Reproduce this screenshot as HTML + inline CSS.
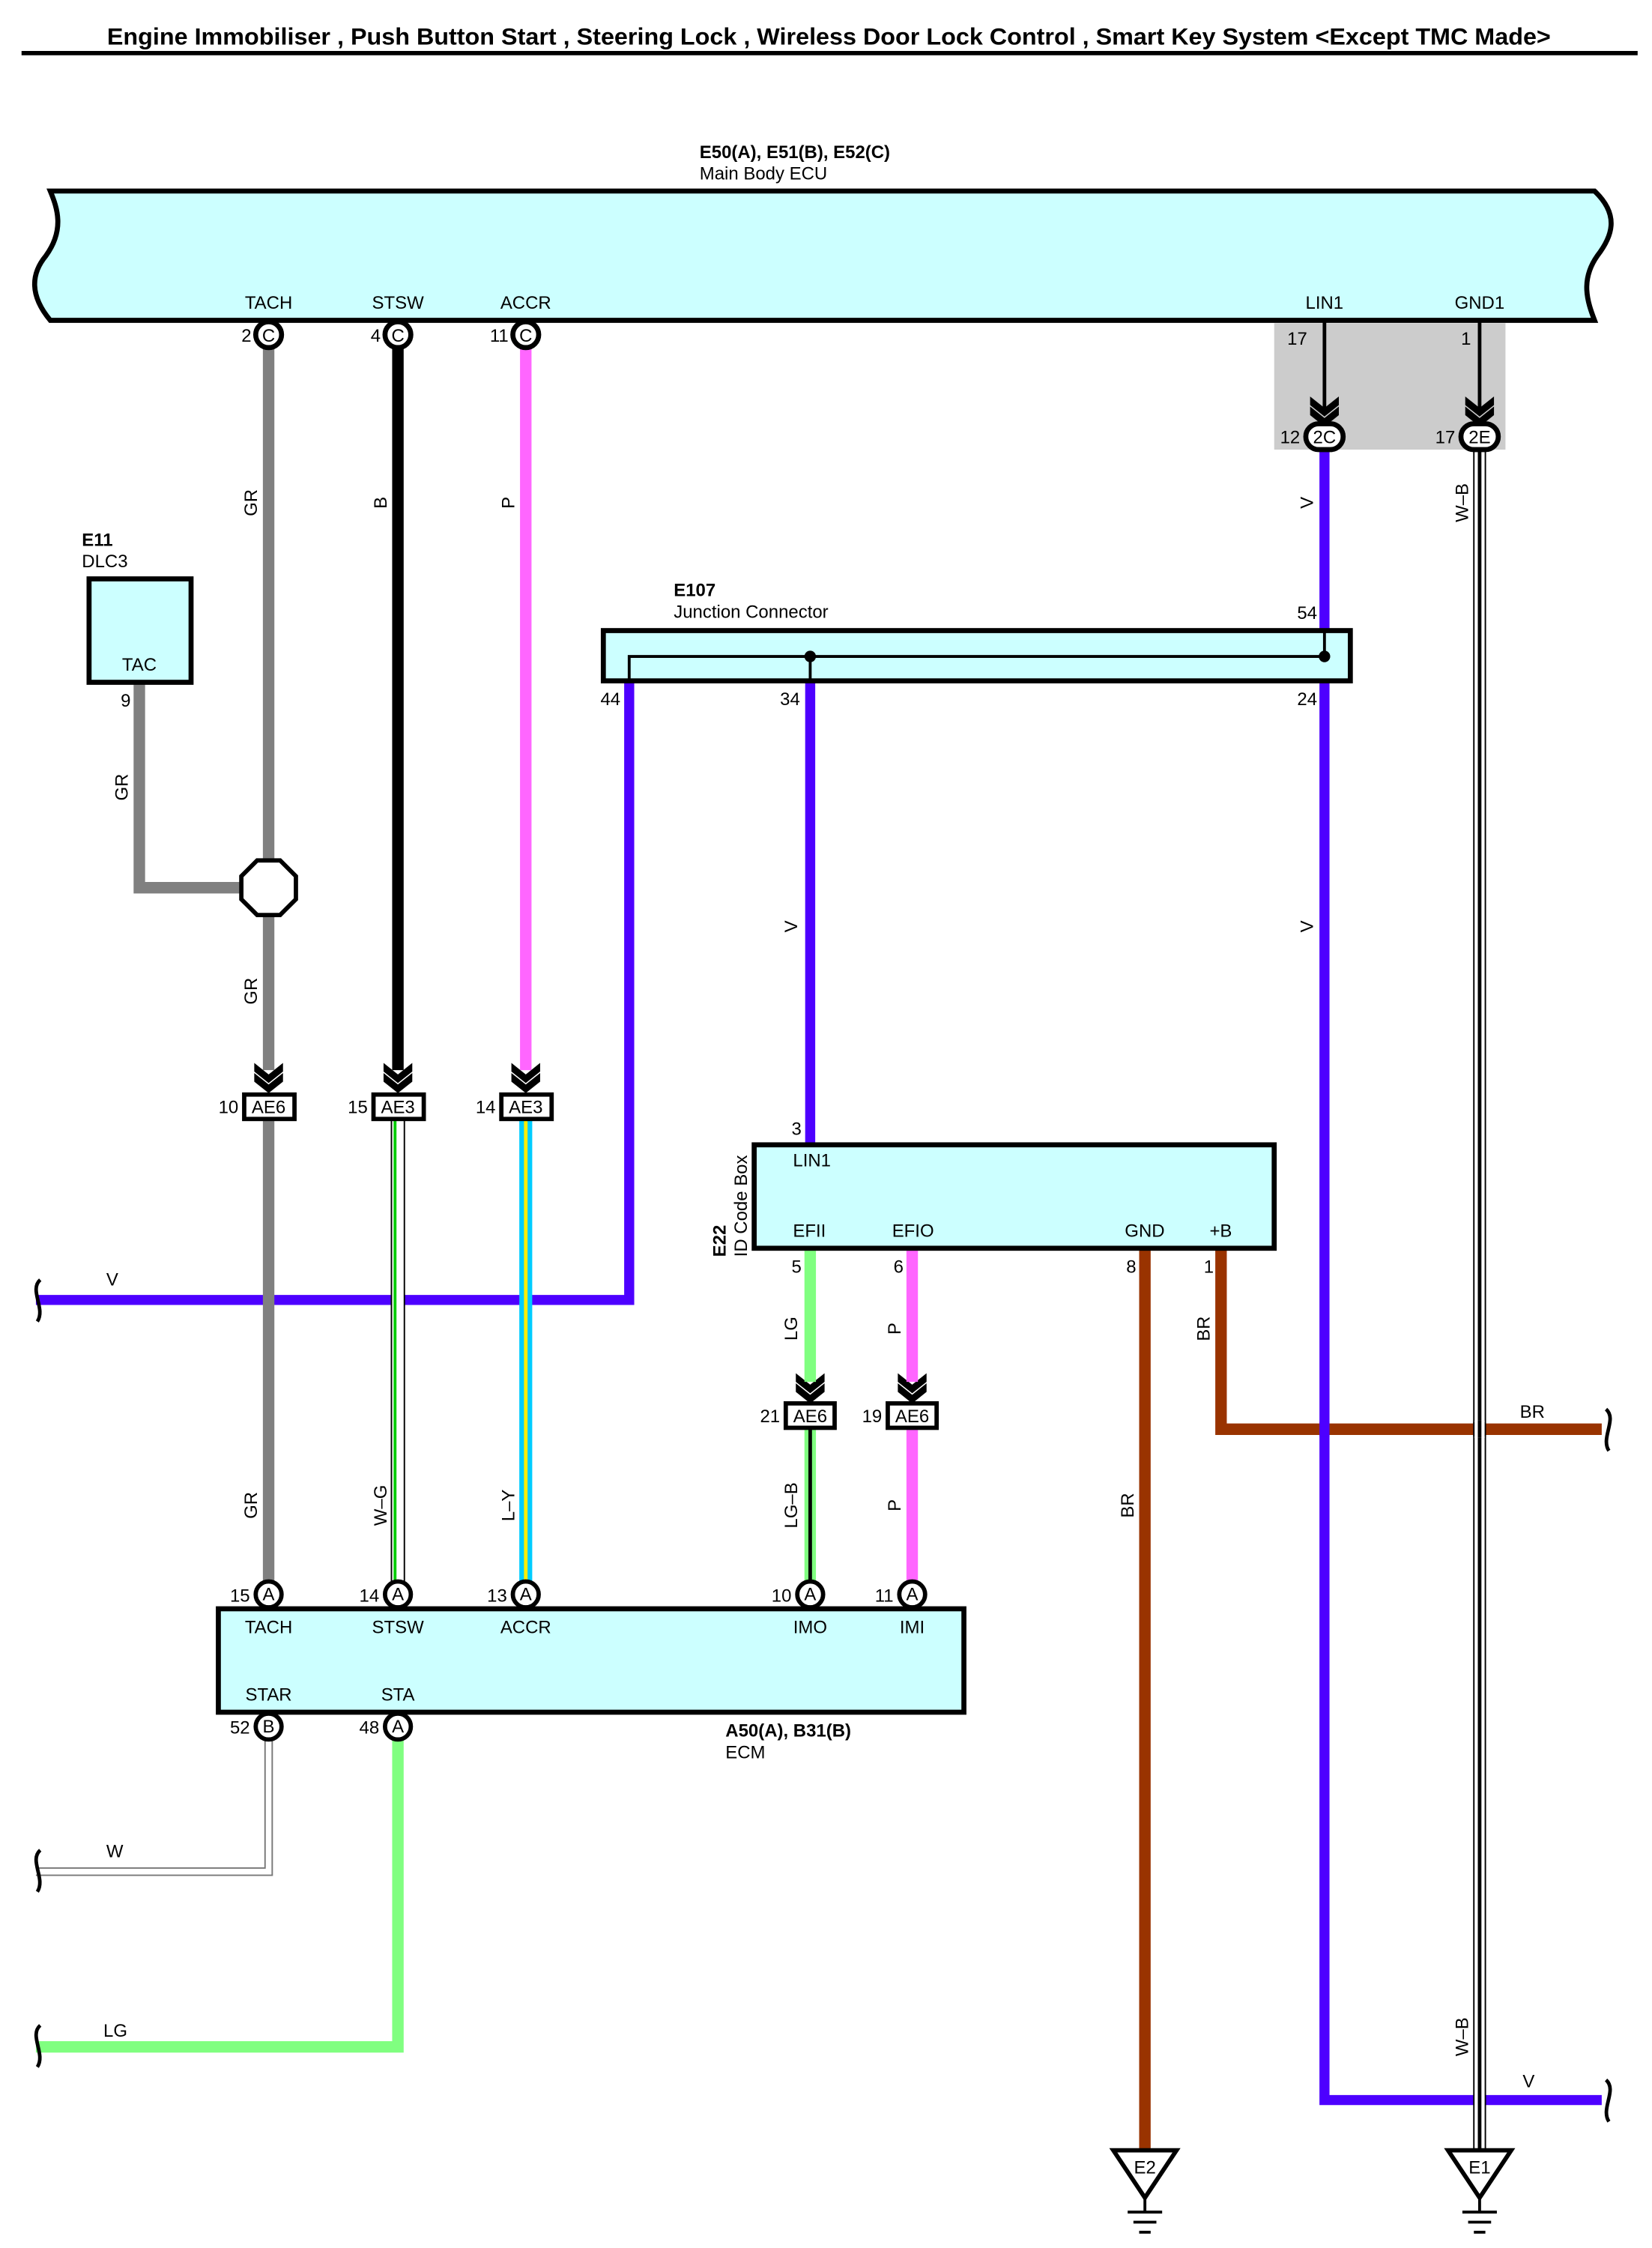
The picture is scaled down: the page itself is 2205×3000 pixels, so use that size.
<!DOCTYPE html>
<html><head><meta charset="utf-8"><style>html,body{margin:0;padding:0;background:#fff}svg{display:block}text{font-family:"Liberation Sans",sans-serif;font-size:12.5px;fill:#000}</style></head><body>
<svg width="2205" height="3000" viewBox="0 0 1150 1565" preserveAspectRatio="none" xmlns="http://www.w3.org/2000/svg">
<defs>
<g id="chev"><path d="M-10,-12 L0,-4 L10,-12 L10,-6 L0,2 L-10,-6 Z M-10,-5 L0,3 L10,-5 L10,1 L0,9 L-10,1 Z" fill="#000"/></g>
</defs>
<text x="577" y="31" text-anchor="middle" textLength="1005" lengthAdjust="spacingAndGlyphs" style="font-size:16.5px;font-weight:bold">Engine Immobiliser , Push Button Start , Steering Lock , Wireless Door Lock Control , Smart Key System &lt;Except TMC Made&gt;</text>
<line x1="15" y1="37" x2="1140" y2="37" stroke="#000" stroke-width="3"/>
<text x="487" y="110" style="font-weight:bold">E50(A), E51(B), E52(C)</text>
<text x="487" y="125">Main Body ECU</text>
<path d="M35,133 L1110,133 C1128,150 1122,165 1112,178 C1100,195 1105,210 1110,223 L35,223 C20,205 22,190 32,178 C45,160 40,145 35,133 Z" fill="#ccffff" stroke="#000" stroke-width="3.5"/>
<g text-anchor="middle"><text x="187" y="215">TACH</text><text x="277" y="215">STSW</text><text x="366" y="215">ACCR</text><text x="922" y="215">LIN1</text><text x="1030" y="215">GND1</text></g>
<rect x="887" y="225" width="161" height="88" fill="#cccccc"/>
<line x1="187" y1="242" x2="187" y2="745" stroke="#808080" stroke-width="8"/>
<line x1="277" y1="242" x2="277" y2="745" stroke="#000" stroke-width="8"/>
<line x1="366" y1="242" x2="366" y2="745" stroke="#ff66ff" stroke-width="8"/>
<line x1="922" y1="223" x2="922" y2="288" stroke="#000" stroke-width="2.5"/>
<line x1="1030" y1="223" x2="1030" y2="288" stroke="#000" stroke-width="2.5"/>
<use href="#chev" x="922" y="288"/><use href="#chev" x="1030" y="288"/>
<text x="910" y="240" text-anchor="end">17</text><text x="1024" y="240" text-anchor="end">1</text>
<path d="M922,313 L922,1462 L1115,1462" fill="none" stroke="#4d00ff" stroke-width="7"/>
<line x1="1030" y1="313" x2="1030" y2="1500" stroke="#000" stroke-width="9"/>
<line x1="1030" y1="313" x2="1030" y2="1500" stroke="#fff" stroke-width="7"/>
<line x1="1030" y1="313" x2="1030" y2="1500" stroke="#000" stroke-width="2.5"/>
<g fill="#fff" stroke="#000" stroke-width="3.5"><rect x="909" y="295" width="26" height="18" rx="9"/><rect x="1017" y="295" width="26" height="18" rx="9"/></g>
<text x="922" y="308.5" text-anchor="middle">2C</text><text x="1030" y="308.5" text-anchor="middle">2E</text>
<text x="905" y="308.5" text-anchor="end">12</text><text x="1013" y="308.5" text-anchor="end">17</text>
<g fill="#fff" stroke="#000" stroke-width="3.5"><circle cx="187" cy="233" r="9"/><circle cx="277" cy="233" r="9"/><circle cx="366" cy="233" r="9"/></g>
<g text-anchor="middle"><text x="187" y="238">C</text><text x="277" y="238">C</text><text x="366" y="238">C</text></g>
<g text-anchor="end"><text x="175" y="238">2</text><text x="265" y="238">4</text><text x="354" y="238">11</text></g>
<g text-anchor="middle">
<text transform="translate(179,350) rotate(-90)">GR</text><text transform="translate(269,350) rotate(-90)">B</text><text transform="translate(358,350) rotate(-90)">P</text>
<text transform="translate(89,548) rotate(-90)">GR</text><text transform="translate(179,690) rotate(-90)">GR</text>
<text transform="translate(914,350) rotate(-90)">V</text><text transform="translate(1022,350) rotate(-90)">W–B</text>
<text transform="translate(914,645) rotate(-90)">V</text><text transform="translate(555,645) rotate(-90)">V</text>
<text transform="translate(555,925) rotate(-90)">LG</text><text transform="translate(627,925) rotate(-90)">P</text>
<text transform="translate(842,925) rotate(-90)">BR</text>
<text transform="translate(179,1048) rotate(-90)">GR</text><text transform="translate(269,1048) rotate(-90)">W–G</text>
<text transform="translate(358,1048) rotate(-90)">L–Y</text><text transform="translate(555,1048) rotate(-90)">LG–B</text>
<text transform="translate(627,1048) rotate(-90)">P</text><text transform="translate(789,1048) rotate(-90)">BR</text>
<text transform="translate(1022,1418) rotate(-90)">W–B</text>
</g>
<text x="57" y="380" style="font-weight:bold">E11</text><text x="57" y="395">DLC3</text>
<path d="M97,475 L97,618 L170,618" fill="none" stroke="#808080" stroke-width="8"/>
<rect x="62" y="403" width="71" height="72" fill="#ccffff" stroke="#000" stroke-width="3.5"/>
<text x="97" y="467" text-anchor="middle">TAC</text><text x="91" y="492" text-anchor="end">9</text>
<polygon points="179,599 195,599 206,610 206,626 195,637 179,637 168,626 168,610" fill="#fff" stroke="#000" stroke-width="3"/>
<path d="M25,905 L438,905 L438,474" fill="none" stroke="#4d00ff" stroke-width="7"/>
<line x1="564" y1="474" x2="564" y2="797" stroke="#4d00ff" stroke-width="7"/>
<text x="469" y="415" style="font-weight:bold">E107</text><text x="469" y="430">Junction Connector</text>
<rect x="420" y="439" width="520" height="35" fill="#ccffff" stroke="#000" stroke-width="3.5"/>
<path d="M438,474 L438,457 L922,457 L922,439" fill="none" stroke="#000" stroke-width="2"/>
<line x1="564" y1="457" x2="564" y2="474" stroke="#000" stroke-width="2"/>
<circle cx="564" cy="457" r="4"/><circle cx="922" cy="457" r="4"/>
<text x="903" y="431">54</text><text x="418" y="491">44</text><text x="543" y="491">34</text><text x="903" y="491">24</text>
<text x="74" y="895">V</text>
<use href="#chev" x="187" y="752"/><use href="#chev" x="277" y="752"/><use href="#chev" x="366" y="752"/>
<use href="#chev" x="564" y="968"/><use href="#chev" x="635" y="968"/>
<line x1="187" y1="779" x2="187" y2="1102" stroke="#808080" stroke-width="8"/>
<line x1="277" y1="779" x2="277" y2="1102" stroke="#000" stroke-width="10"/>
<line x1="277" y1="779" x2="277" y2="1102" stroke="#fff" stroke-width="8"/>
<line x1="275" y1="779" x2="275" y2="1102" stroke="#00cc00" stroke-width="2"/>
<line x1="366" y1="779" x2="366" y2="1102" stroke="#00ccff" stroke-width="9"/>
<line x1="366" y1="779" x2="366" y2="1102" stroke="#ffee00" stroke-width="2.5"/>
<line x1="564" y1="869" x2="564" y2="962" stroke="#80ff80" stroke-width="8"/>
<line x1="635" y1="869" x2="635" y2="962" stroke="#ff66ff" stroke-width="8"/>
<line x1="564" y1="994" x2="564" y2="1102" stroke="#80ff80" stroke-width="8"/>
<line x1="564" y1="994" x2="564" y2="1102" stroke="#000" stroke-width="2.5"/>
<line x1="635" y1="994" x2="635" y2="1102" stroke="#ff66ff" stroke-width="8"/>
<line x1="797" y1="869" x2="797" y2="1500" stroke="#993300" stroke-width="8"/>
<path d="M850,869 L850,995 L1115,995" fill="none" stroke="#993300" stroke-width="8"/>
<line x1="922" y1="990" x2="922" y2="1000" stroke="#4d00ff" stroke-width="7"/>
<line x1="1030" y1="990" x2="1030" y2="1000" stroke="#000" stroke-width="9"/><line x1="1030" y1="989" x2="1030" y2="1001" stroke="#fff" stroke-width="7"/><line x1="1030" y1="989" x2="1030" y2="1001" stroke="#000" stroke-width="2.5"/>
<text x="1058" y="987">BR</text><text x="1060" y="1453">V</text>
<g fill="#fff" stroke="#000" stroke-width="3"><rect x="170" y="762" width="35" height="17"/><rect x="260" y="762" width="35" height="17"/><rect x="349" y="762" width="35" height="17"/><rect x="547" y="977" width="34" height="17"/><rect x="618" y="977" width="34" height="17"/></g>
<g text-anchor="middle"><text x="187" y="775">AE6</text><text x="277" y="775">AE3</text><text x="366" y="775">AE3</text><text x="564" y="990">AE6</text><text x="635" y="990">AE6</text></g>
<g text-anchor="end"><text x="166" y="775">10</text><text x="256" y="775">15</text><text x="345" y="775">14</text><text x="543" y="990">21</text><text x="614" y="990">19</text></g>
<rect x="525" y="797" width="362" height="72" fill="#ccffff" stroke="#000" stroke-width="3.5"/>
<text x="552" y="812">LIN1</text><text x="552" y="861">EFII</text><text x="621" y="861">EFIO</text><text x="783" y="861">GND</text><text x="842" y="861">+B</text>
<text x="551" y="790">3</text><text x="551" y="886">5</text><text x="622" y="886">6</text><text x="784" y="886">8</text><text x="838" y="886">1</text>
<text transform="translate(505,875) rotate(-90)" style="font-weight:bold">E22</text>
<text transform="translate(520,875) rotate(-90)">ID Code Box</text>
<path d="M187,1211 L187,1303 L25,1303" fill="none" stroke="#777" stroke-width="6"/>
<path d="M187,1211 L187,1303 L25,1303" fill="none" stroke="#fff" stroke-width="4"/>
<path d="M277,1211 L277,1425 L25,1425" fill="none" stroke="#80ff80" stroke-width="8"/>
<text x="74" y="1293">W</text><text x="72" y="1418">LG</text>
<rect x="152" y="1120" width="519" height="72" fill="#ccffff" stroke="#000" stroke-width="3.5"/>
<g text-anchor="middle"><text x="187" y="1137">TACH</text><text x="277" y="1137">STSW</text><text x="366" y="1137">ACCR</text><text x="564" y="1137">IMO</text><text x="635" y="1137">IMI</text><text x="187" y="1184">STAR</text><text x="277" y="1184">STA</text></g>
<g fill="#fff" stroke="#000" stroke-width="3"><circle cx="187" cy="1110" r="9"/><circle cx="277" cy="1110" r="9"/><circle cx="366" cy="1110" r="9"/><circle cx="564" cy="1110" r="9"/><circle cx="635" cy="1110" r="9"/><circle cx="187" cy="1202" r="9"/><circle cx="277" cy="1202" r="9"/></g>
<g text-anchor="middle" style="font-size:11px"><text x="187" y="1114">A</text><text x="277" y="1114">A</text><text x="366" y="1114">A</text><text x="564" y="1114">A</text><text x="635" y="1114">A</text><text x="187" y="1206">B</text><text x="277" y="1206">A</text></g>
<g text-anchor="end"><text x="174" y="1115">15</text><text x="264" y="1115">14</text><text x="353" y="1115">13</text><text x="551" y="1115">10</text><text x="622" y="1115">11</text><text x="174" y="1207">52</text><text x="264" y="1207">48</text></g>
<text x="505" y="1209" style="font-weight:bold">A50(A), B31(B)</text><text x="505" y="1224">ECM</text>
<g fill="none" stroke="#000" stroke-width="2.5">
<path d="M28,891 C20,898 32,911 26,920"/><path d="M28,1288 C20,1295 32,1308 26,1317"/><path d="M28,1410 C20,1417 32,1430 26,1439"/>
<path d="M1118,981 C1126,988 1114,1001 1120,1010"/><path d="M1118,1448 C1126,1455 1114,1468 1120,1477"/>
</g>
<g fill="#fff" stroke="#000" stroke-width="3"><polygon points="775,1497 819,1497 797,1530"/><polygon points="1008,1497 1052,1497 1030,1530"/></g>
<g stroke="#000" stroke-width="2"><line x1="797" y1="1530" x2="797" y2="1540"/><line x1="785" y1="1540" x2="809" y2="1540"/><line x1="789" y1="1547" x2="805" y2="1547"/><line x1="793" y1="1554" x2="801" y2="1554"/>
<line x1="1030" y1="1530" x2="1030" y2="1540"/><line x1="1018" y1="1540" x2="1042" y2="1540"/><line x1="1022" y1="1547" x2="1038" y2="1547"/><line x1="1026" y1="1554" x2="1034" y2="1554"/></g>
<text x="797" y="1513" text-anchor="middle">E2</text><text x="1030" y="1513" text-anchor="middle">E1</text>
</svg>
</body></html>
